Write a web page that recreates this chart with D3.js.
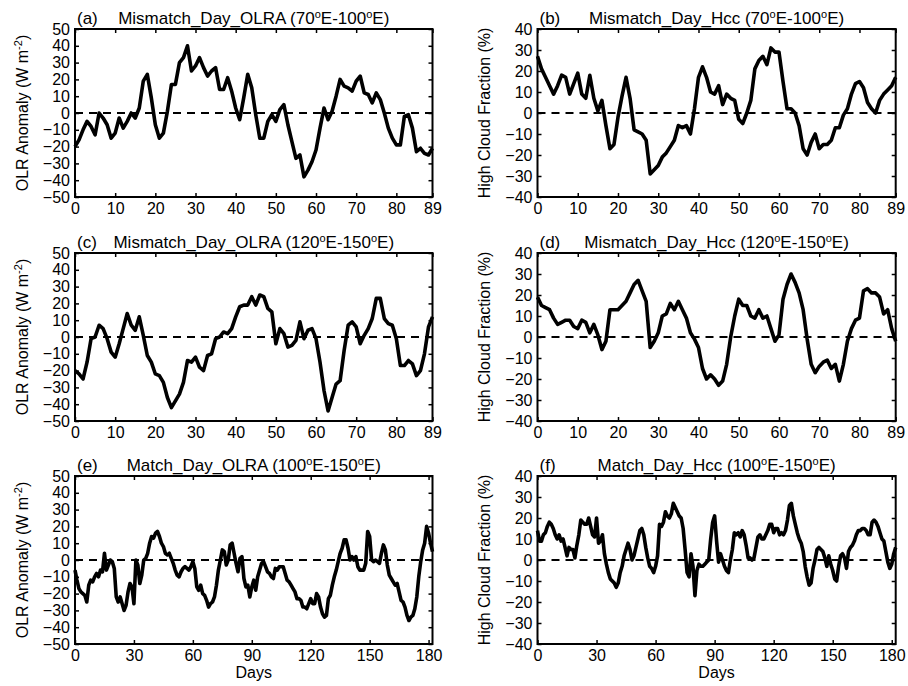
<!DOCTYPE html>
<html><head><meta charset="utf-8">
<script src="https://cdn.jsdelivr.net/npm/d3@7"></script>
<style>body{margin:0;background:#fff}</style>
</head><body>
<svg id="chart" width="908" height="686"></svg>
<script>
// ---------- data ----------
const xTicks90 = [0,10,20,30,40,50,60,70,80,89];
const xTicks183 = [0,30,60,90,120,150,180];
const yTicksOLR = [-50,-40,-30,-20,-10,0,10,20,30,40,50];
const yTicksHCC = [-40,-30,-20,-10,0,10,20,30,40];

const olrA = [-20,-16,-10,-5,-8,-13,0,-3,-7,-15,
  -12,-3,-9,-5,0,-3,3,19,23,9,
  -7,-15,-12,1,17,17,30,33,40,25,
  28,33,27,22,25,27,14,14,21,13,
  3,-4,9,23,15,-1,-15,-15,-5,-1,
  -5,2,5,-7,-17,-27,-25,-38,-34,-29,
  -22,-9,3,-4,1,10,20,16,15,13,
  19,22,12,11,6,12,8,0,-9,-15,
  -19,-19,-2,-1,-9,-23,-21,-24,-25,-21];
const hccB = [27,21,17,13,9,13,18,17,9,14,
  19,9,7,18,7,1,6,-6,-17,-15,
  -2,8,17,7,-8,-9,-10,-13,-29,-27,
  -25,-21,-19,-16,-13,-6,-7,-6,-10,2,
  17,22,17,10,9,13,4,9,7,6,
  -3,-5,0,6,21,25,27,23,31,29,
  29,15,2,2,0,-6,-17,-20,-14,-10,
  -17,-15,-15,-13,-7,-7,-1,2,9,14,
  15,12,5,2,0,6,9,11,13,17];
const olrC = [-20,-22,-25,-15,-1,0,7,5,-1,-9,
  -12,-4,5,14,7,4,12,1,-11,-15,
  -22,-23,-27,-36,-42,-38,-34,-27,-14,-15,
  -12,-18,-20,-11,-10,-1,0,3,2,5,
  12,18,19,19,24,19,25,24,17,15,
  -4,5,2,-6,-5,-2,9,-1,4,5,
  -1,-15,-32,-44,-36,-28,-26,-8,7,9,
  6,-4,1,5,11,23,23,11,8,7,
  -1,-17,-17,-14,-16,-23,-20,-10,6,12];
const hccD = [19,15,14,13,9,6,7,8,8,5,
  4,8,7,2,6,1,-6,-2,13,13,
  13,15,17,21,25,27,22,17,-5,-2,
  2,10,11,16,13,17,13,9,2,-1,
  -5,-15,-20,-18,-20,-23,-21,-13,0,10,
  18,15,15,10,9,13,9,10,4,-2,
  1,18,25,30,26,21,13,-1,-13,-17,
  -14,-12,-11,-15,-13,-21,-13,-2,4,8,
  9,22,23,21,21,19,11,13,4,-2];
const olrE = [-6,-12,-17,-19,-20,-21,-25,-15,-12,-13,
  -10,-8,-10,-6,-7,4,-6,-3,0,-1,
  -5,-22,-25,-22,-26,-30,-27,-19,-14,-16,
  -26,0,-3,-14,-9,0,1,4,10,14,
  13,16,17,14,10,8,4,3,4,1,
  -2,-6,-9,-10,-7,-5,-4,-5,-6,-4,
  -1,-5,-16,-18,-15,-20,-21,-24,-28,-26,
  -25,-22,-15,-6,0,6,5,-3,0,9,
  10,4,-2,-7,1,2,-11,-16,-15,-22,
  -16,-12,-18,-10,-6,-2,-1,-4,-7,-8,
  -10,-11,-5,-6,-4,-4,-4,-8,-12,-13,
  -15,-17,-19,-23,-23,-24,-28,-28,-29,-26,
  -23,-26,-26,-20,-22,-28,-32,-34,-33,-23,
  -21,-15,-10,-6,-1,4,7,12,12,7,
  0,2,0,2,-4,-6,-6,-6,-2,17,
  14,0,-1,0,-1,-2,4,9,6,-3,
  -9,-11,-13,-15,-14,-19,-24,-25,-28,-33,
  -36,-34,-33,-29,-22,-10,-1,6,10,20,
  16,10,5];
const hccF = [14,9,9,12,13,16,18,17,15,12,
  10,12,9,10,6,2,6,5,5,1,
  7,12,19,18,17,17,20,16,12,11,
  20,8,9,12,3,-2,-6,-9,-10,-11,
  -13,-11,-6,-3,2,5,8,5,0,2,
  6,10,14,15,12,6,1,-3,-4,-6,
  -3,2,17,16,18,23,21,20,22,27,
  25,23,21,20,15,5,-6,-8,3,-3,
  -17,-5,-2,-3,-3,-2,-1,0,10,18,
  21,9,-1,3,0,-3,-5,-6,0,5,
  13,12,13,11,14,12,7,1,1,0,
  1,6,11,12,10,10,12,14,17,17,
  13,15,15,12,13,12,14,19,26,27,
  21,17,13,10,8,4,-3,-8,-12,-11,
  -4,0,5,6,5,4,1,-3,2,-2,
  -5,-9,-10,-3,2,3,1,-4,4,6,
  7,9,12,14,14,15,15,14,12,12,
  18,19,18,16,13,10,9,4,-1,-4,
  -2,3,6];

const letters = ["(a)","(b)","(c)","(d)","(e)","(f)"];
const titleNames = ["Mismatch_Day_OLRA","Mismatch_Day_Hcc","Mismatch_Day_OLRA","Mismatch_Day_Hcc","Match_Day_OLRA","Match_Day_Hcc"];
const lonFrom = ["70","70","120","120","100","100"];
const lonTo = ["100","100","150","150","150","150"];

// ---------- layout ----------
const FONT = "'Liberation Sans', Arial, Helvetica, sans-serif";
const colX = [[75,432.5],[537.5,895.7]];
const rowTop = [29,253,476];
const plotH = 168;

const svg = d3.select("#chart");
svg.append("rect").attr("width",908).attr("height",686).attr("fill","#fff");

const panels = [
  {data: olrA, col:0, row:0, yTicks: yTicksOLR, xTicks: xTicks90, xMax: 89},
  {data: hccB, col:1, row:0, yTicks: yTicksHCC, xTicks: xTicks90, xMax: 89},
  {data: olrC, col:0, row:1, yTicks: yTicksOLR, xTicks: xTicks90, xMax: 89},
  {data: hccD, col:1, row:1, yTicks: yTicksHCC, xTicks: xTicks90, xMax: 89},
  {data: olrE, col:0, row:2, yTicks: yTicksOLR, xTicks: xTicks183, xMax: 182},
  {data: hccF, col:1, row:2, yTicks: yTicksHCC, xTicks: xTicks183, xMax: 182}
];

panels.forEach((p, k) => {
  const [x0, x1] = colX[p.col];
  const y0 = rowTop[p.row], y1 = y0 + plotH;
  const yMin = d3.min(p.yTicks), yMax = d3.max(p.yTicks);
  const x = d3.scaleLinear().domain([0, p.xMax]).range([x0, x1]);
  const y = d3.scaleLinear().domain([yMin, yMax]).range([y1, y0]);
  const g = svg.append("g");

  const styleAxis = sel => {
    sel.select(".domain").remove();
    sel.selectAll(".tick line").attr("stroke","#000").attr("stroke-width",1.5);
    sel.selectAll(".tick text").attr("font-size",16).attr("font-family",FONT).attr("fill","#000");
  };

  g.append("g").attr("transform",`translate(${x0},0)`)
    .call(d3.axisLeft(y).tickValues(p.yTicks).tickSize(-4).tickPadding(5).tickFormat(d3.format("d")))
    .call(styleAxis);
  g.append("g").attr("transform",`translate(${x1},0)`)
    .call(d3.axisRight(y).tickValues(p.yTicks).tickSize(-4).tickFormat(""))
    .call(styleAxis);
  g.append("g").attr("transform",`translate(0,${y1})`)
    .call(d3.axisBottom(x).tickValues(p.xTicks).tickSize(-4).tickPadding(6).tickFormat(d3.format("d")))
    .call(styleAxis);
  g.append("g").attr("transform",`translate(0,${y0})`)
    .call(d3.axisTop(x).tickValues(p.xTicks).tickSize(-4).tickFormat(""))
    .call(styleAxis);

  // zero dashed line
  g.append("line").attr("x1",x0).attr("x2",x1).attr("y1",y(0)).attr("y2",y(0))
    .attr("stroke","#000").attr("stroke-width",2).attr("stroke-dasharray","8,6");

  // data line
  const line = d3.line().x((d,i)=>x(i)).y(d=>y(d));
  g.append("path").datum(p.data).attr("d",line).attr("fill","none")
    .attr("stroke","#000").attr("stroke-width",3.6).attr("stroke-linejoin","round");

  // frame
  g.append("rect").attr("x",x0).attr("y",y0).attr("width",x1-x0).attr("height",plotH)
    .attr("fill","none").attr("stroke","#000").attr("stroke-width",2);

  // letter
  g.append("text").attr("x",x0+2).attr("y",y0-5).attr("font-size",17).attr("font-family",FONT)
    .text(letters[k]);
  // title
  const t = g.append("text").attr("x",(x0+x1)/2).attr("y",y0-5).attr("text-anchor","middle")
    .attr("font-size",17).attr("font-family",FONT);
  t.append("tspan").text(titleNames[k] + " (" + lonFrom[k]);
  t.append("tspan").attr("dy",-6).attr("font-size",11).text("o");
  t.append("tspan").attr("dy",6).text("E-" + lonTo[k]);
  t.append("tspan").attr("dy",-6).attr("font-size",11).text("o");
  t.append("tspan").attr("dy",6).text("E)");

  // y label
  const cy = (y0+y1)/2;
  if (p.col === 0) {
    const yl = g.append("text").attr("transform",`translate(28,${cy}) rotate(-90)`)
      .attr("text-anchor","middle").attr("font-size",16).attr("font-family",FONT);
    yl.append("tspan").text("OLR Anomaly (W m");
    yl.append("tspan").attr("dy",-6).attr("font-size",11).text("-2");
    yl.append("tspan").attr("dy",6).text(")");
  } else {
    g.append("text").attr("transform",`translate(490,${cy}) rotate(-90)`)
      .attr("text-anchor","middle").attr("font-size",16).attr("font-family",FONT)
      .text("High Cloud Fraction (%)");
  }
  if (p.row === 2) {
    g.append("text").attr("x",(x0+x1)/2).attr("y",678).attr("text-anchor","middle")
      .attr("font-size",16).attr("font-family",FONT).text("Days");
  }
});
</script>
</body></html>
